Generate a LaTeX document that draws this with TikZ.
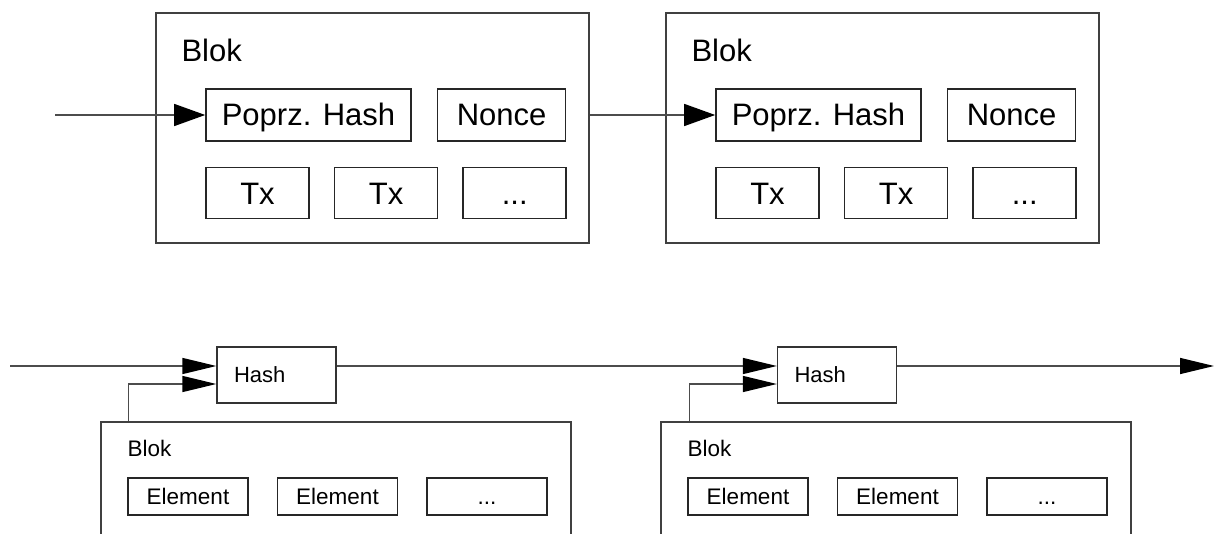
\documentclass[tikz,border=0pt]{standalone}
\usepackage{fontspec}
\setmainfont{Liberation Sans}
\usetikzlibrary{positioning}
\usetikzlibrary{arrows.meta}

\begin{document}
\begin{tikzpicture}[x=1pt, y=-1pt,
    blockframe/.style={rectangle, draw=black!75, line width=1.4pt,
      minimum width=433pt, minimum height=230pt},
    fieldbox/.style={rectangle, draw=black!85, line width=1.6pt,
      inner sep=0pt, minimum height=52pt, text height=22pt, text depth=0pt,
      font=\fontsize{31}{36}\selectfont},
    chainframe/.style={rectangle, draw=black!75, line width=1.2pt,
      minimum width=470pt, minimum height=140pt},
    hashbox/.style={rectangle, draw=black!80, line width=1.3pt,
      minimum width=119pt, minimum height=56pt, inner xsep=17pt,
      text width=85pt, align=left, font=\fontsize{22}{26}\selectfont},
    elembox/.style={rectangle, draw=black!85, line width=1.5pt,
      inner sep=0pt, minimum width=120pt, minimum height=37pt,
      text height=16pt, text depth=0pt, font=\fontsize{22.5}{26}\selectfont},
    bigtitle/.style={inner sep=0pt, anchor=base west,
      font=\fontsize{31}{36}\selectfont},
    smalltitle/.style={inner sep=0pt, anchor=base west,
      font=\fontsize{22.5}{26}\selectfont},
    toparrow/.style={-{Triangle[length=31pt, width=22pt, black]},
      draw=black!70, line width=1.4pt},
    botarrow/.style={-{Triangle[length=34pt, width=16pt, black]},
      draw=black!70, line width=1.4pt}, ]
    \clip (0,0) rectangle (1215,534);
    % Upper chain: blocks with previous hash and nonce
    \node[blockframe] (blok1) at (372.5,128) {};
    \node[bigtitle] (title1) at ([xshift=26pt, yshift=-49pt]blok1.north west) {Blok};
    \node[fieldbox, minimum width=205pt] (prev1) at (308.5,115) {Poprz. Hash};
    \node[fieldbox, minimum width=128pt] (nonce1) [right=25pt of prev1] {Nonce};
    \node[fieldbox, minimum width=103pt, minimum height=51pt] (txa1)
      [below right=25pt and 0pt of prev1.south west, anchor=north west] {Tx};
    \node[fieldbox, minimum width=103pt, minimum height=51pt] (txb1) [right=24pt of txa1] {Tx};
    \node[fieldbox, minimum width=103pt, minimum height=51pt] (txc1) [right=24pt of txb1] {...};

    \node[blockframe] (blok2) at (882.5,128) {};
    \node[bigtitle] (title2) at ([xshift=26pt, yshift=-49pt]blok2.north west) {Blok};
    \node[fieldbox, minimum width=205pt] (prev2) at (818.5,115) {Poprz. Hash};
    \node[fieldbox, minimum width=128pt] (nonce2) [right=25pt of prev2] {Nonce};
    \node[fieldbox, minimum width=103pt, minimum height=51pt] (txa2)
      [below right=25pt and 0pt of prev2.south west, anchor=north west] {Tx};
    \node[fieldbox, minimum width=103pt, minimum height=51pt] (txb2) [right=24pt of txa2] {Tx};
    \node[fieldbox, minimum width=103pt, minimum height=51pt] (txc2) [right=24pt of txb2] {...};

    % Lower chain: hash of previous hash and block
    \node[hashbox] (hash1) at (276.5,375) {Hash};
    \node[hashbox] (hash2) at (837,375) {Hash};
    \node[chainframe] (chain1) at (336,492) {};
    \node[smalltitle] (sub1) at ([xshift=27pt, yshift=-35pt]chain1.north west) {Blok};
    \node[elembox] (ela1) at (188,496.5) {Element};
    \node[elembox] (elb1) [right=28pt of ela1] {Element};
    \node[elembox] (elc1) [right=28pt of elb1] {...};
    \node[chainframe] (chain2) at (896,492) {};
    \node[smalltitle] (sub2) at ([xshift=27pt, yshift=-35pt]chain2.north west) {Blok};
    \node[elembox] (ela2) at (748,496.5) {Element};
    \node[elembox] (elb2) [right=28pt of ela2] {Element};
    \node[elembox] (elc2) [right=28pt of elb2] {...};

    \coordinate (start1) at (55,115);
    \coordinate (start2) at (10,366);
    \coordinate (finish) at (1214,366);

    % Lines
    \draw[toparrow] (start1) -- (prev1.west);
    \draw[toparrow] (blok1.east |- prev1.west) -- (prev2.west);
    \draw[botarrow] (start2) -- ([yshift=9pt]hash1.west);
    \draw[botarrow] ([xshift=28pt]chain1.north west) |- ([yshift=-9pt]hash1.west);
    \draw[botarrow] ([yshift=9pt]hash1.east) -- ([yshift=9pt]hash2.west);
    \draw[botarrow] ([xshift=29pt]chain2.north west) |- ([yshift=-9pt]hash2.west);
    \draw[botarrow] ([yshift=9pt]hash2.east) -- (finish);
  \end{tikzpicture}
\end{document}
